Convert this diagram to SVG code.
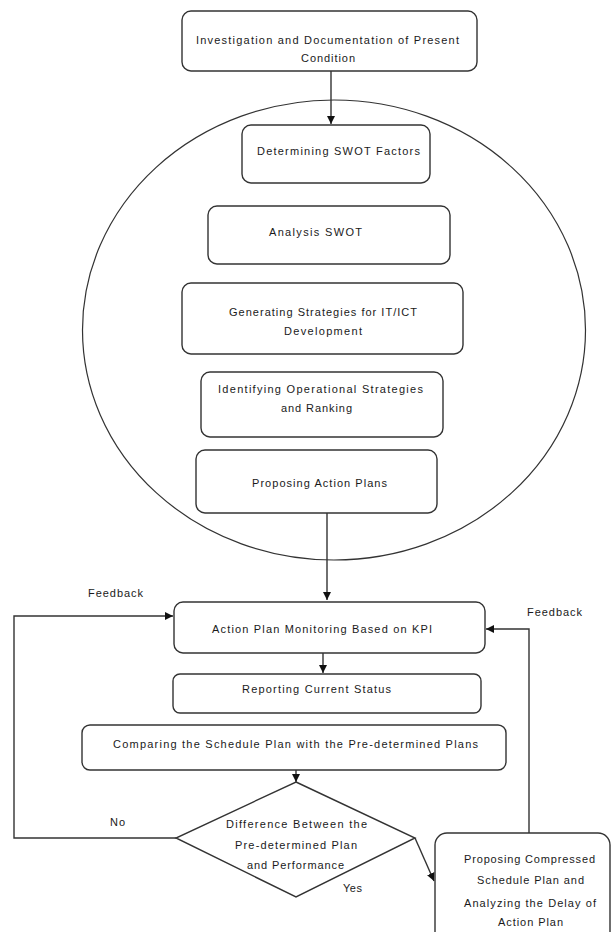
<svg xmlns="http://www.w3.org/2000/svg" width="611" height="932" viewBox="0 0 611 932">
<style>
.box{fill:#fff;stroke:#333;stroke-width:1.4}
.ln{fill:none;stroke:#333;stroke-width:1.4}
text{font-family:"Liberation Sans",Arial,sans-serif;font-size:11px;fill:#1a1a1a}
</style>
<defs>
<marker id="ah" markerUnits="userSpaceOnUse" markerWidth="9" markerHeight="9" refX="8" refY="4" orient="auto">
<path d="M0,0 L8,4 L0,8 z" fill="#111"/>
</marker>
</defs>
<rect width="611" height="932" fill="#fff"/>
<ellipse id="scope" cx="334" cy="330" rx="251.5" ry="230" fill="none" stroke="#333" stroke-width="1.2"/>
<g id="connectors">
<path class="ln" d="M331,71 V124" marker-end="url(#ah)"/>
<path class="ln" d="M327,513 V600" marker-end="url(#ah)"/>
<path class="ln" d="M323,653 V673" marker-end="url(#ah)"/>
<path class="ln" d="M296,770 V782" marker-end="url(#ah)"/>
<path class="ln" d="M176,838 H14 V616 H173" marker-end="url(#ah)"/>
<path class="ln" d="M415,838 L434,881" marker-end="url(#ah)"/>
<path class="ln" d="M529,833 V629 H486" marker-end="url(#ah)"/>
</g>
<g id="n1">
<rect class="box" x="182" y="11" width="295" height="60" rx="9"/>
<text x="196" y="44" textLength="263" lengthAdjust="spacing">Investigation and Documentation   of Present</text>
<text x="301" y="62" textLength="54" lengthAdjust="spacing">Condition</text>
</g>
<g id="n2">
<rect class="box" x="242" y="125" width="188" height="58" rx="9"/>
<text x="257" y="155" textLength="163" lengthAdjust="spacing">Determining SWOT Factors</text>
</g>
<g id="n3">
<rect class="box" x="208" y="206" width="242" height="58" rx="9"/>
<text x="269" y="236" textLength="93" lengthAdjust="spacing">Analysis   SWOT</text>
</g>
<g id="n4">
<rect class="box" x="182" y="283" width="281" height="71" rx="9"/>
<text x="229" y="316" textLength="188" lengthAdjust="spacing">Generating Strategies for IT/ICT</text>
<text x="284" y="335" textLength="78" lengthAdjust="spacing">Development</text>
</g>
<g id="n5">
<rect class="box" x="201" y="372" width="242" height="65" rx="9"/>
<text x="218" y="393" textLength="205" lengthAdjust="spacing">Identifying Operational Strategies</text>
<text x="281" y="412" textLength="71" lengthAdjust="spacing">and Ranking</text>
</g>
<g id="n6">
<rect class="box" x="196" y="450" width="241" height="63" rx="9"/>
<text x="252" y="487" textLength="135" lengthAdjust="spacing">Proposing  Action  Plans</text>
</g>
<g id="n7">
<rect class="box" x="174" y="602" width="311" height="51" rx="9"/>
<text x="212" y="633" textLength="220" lengthAdjust="spacing">Action Plan Monitoring  Based  on KPI</text>
</g>
<g id="n8">
<rect class="box" x="173" y="674" width="308" height="39" rx="7"/>
<text x="242" y="693" textLength="149" lengthAdjust="spacing">Reporting  Current Status</text>
</g>
<g id="n9">
<rect class="box" x="82" y="725" width="424" height="45" rx="8"/>
<text x="113" y="748" textLength="365" lengthAdjust="spacing">Comparing  the  Schedule  Plan with the Pre-determined  Plans</text>
</g>
<g id="n10">
<polygon class="box" points="296,782 415,838 296,897 176,838"/>
<text x="226" y="828" textLength="141" lengthAdjust="spacing">Difference  Between the</text>
<text x="235" y="849" textLength="122" lengthAdjust="spacing">Pre-determined  Plan</text>
<text x="247" y="869" textLength="97" lengthAdjust="spacing">and Performance</text>
</g>
<g id="n11">
<rect class="box" x="435" y="833" width="175" height="130" rx="12"/>
<text x="464" y="863" textLength="131" lengthAdjust="spacing">Proposing  Compressed</text>
<text x="477" y="884" textLength="107" lengthAdjust="spacing">Schedule  Plan  and</text>
<text x="464" y="907" textLength="132" lengthAdjust="spacing">Analyzing the Delay of</text>
<text x="498" y="926" textLength="65" lengthAdjust="spacing">Action Plan</text>
</g>
<g id="labels">
<text x="88" y="597" textLength="55" lengthAdjust="spacing">Feedback</text>
<text x="527" y="616" textLength="55" lengthAdjust="spacing">Feedback</text>
<text x="110" y="826" textLength="15" lengthAdjust="spacing">No</text>
<text x="343" y="892" textLength="19" lengthAdjust="spacing">Yes</text>
</g>
</svg>
